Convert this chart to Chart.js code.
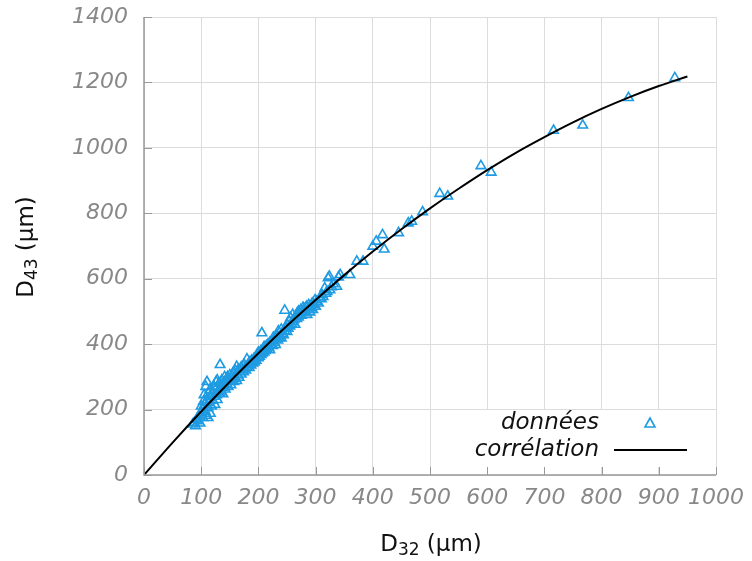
<!DOCTYPE html>
<html>
<head>
<meta charset="utf-8">
<script src="https://cdn.jsdelivr.net/npm/chart.js@4/dist/chart.umd.min.js"></script>
<style>
html,body{margin:0;padding:0;background:#fff;}
#wrap{width:752px;height:561px;}
</style>
</head>
<body>
<div id="wrap"><canvas id="c" width="752" height="561"></canvas></div>
<script>
// Measured data (données)
const d32 = [85,88,90,92,95,97,98,100,100,102,103,104,105,106,107,108,108,110,110,112,112,113,114,115,116,117,118,120,120,122,123,124,125,126,127,128,128,130,131,132,133,134,135,136,137,138,139,140,141,142,144,145,146,147,148,150,150,152,153,155,156,157,158,160,160,162,162,164,165,166,168,170,170,172,174,175,176,178,180,180,182,184,185,187,188,190,192,193,195,196,198,200,200,202,204,205,206,207,208,210,210,212,214,215,217,218,220,220,222,224,225,226,228,230,230,232,234,235,236,238,240,240,242,244,246,246,248,250,250,252,254,255,256,258,260,260,262,264,265,267,268,270,270,272,274,275,277,278,280,280,282,284,285,287,288,290,290,292,294,295,297,299,300,302,305,307,310,311,313,316,318,320,322,324,325,328,331,337,340,343,360,372,383,400,406,417,420,445,462,468,487,517,531,589,607,716,767,847,928];
const d43 = [155,160,150,170,165,180,158,190,210,200,175,225,245,215,195,270,182,285,230,205,175,250,222,260,188,240,210,255,228,270,240,215,262,285,245,290,230,258,280,250,337,270,255,290,268,248,282,275,300,262,288,278,300,270,292,285,305,275,298,290,312,285,300,295,318,331,288,305,322,298,315,308,330,322,315,338,325,320,354,330,338,328,345,336,350,342,355,345,360,350,368,358,375,362,378,368,434,372,385,375,392,380,395,385,400,390,405,382,398,410,395,420,405,415,398,428,412,440,420,425,418,445,432,428,440,503,450,438,460,448,470,455,480,462,468,490,475,460,485,478,495,482,500,490,505,488,498,512,495,508,500,515,490,505,520,498,515,510,525,505,520,535,515,530,525,540,538,551,545,571,555,560,602,607,566,575,584,576,605,612,612,653,653,699,714,734,690,740,770,775,804,860,852,945,925,1053,1069,1153,1214];
// Correlation curve (corrélation)
const corrX = [0,50,100,150,200,250,300,350,400,450,500,550,600,650,700,750,800,850,900,950];
const corrY = [0,99,194,285,372,456,535,611,683,751,815,875,932,985,1033,1078,1119,1156,1189,1218];
// Axis ticks
const xTicks = [0,100,200,300,400,500,600,700,800,900,1000];
const yTicks = [0,200,400,600,800,1000,1200,1400];
const legendLabels = ['données','corrélation'];

const FONT = '"DejaVu Sans", sans-serif';
const BLUE = '#1e9be2';

const pts = d32.map((x,i)=>({x:x,y:d43[i]}));
const curve = corrX.map((x,i)=>({x:x,y:corrY[i]}));

function drawSubText(ctx, parts, cx, cy){
  let w = 0;
  parts.forEach(p=>{ctx.font = p[1]+'px '+FONT; p.w = ctx.measureText(p[0]).width; w += p.w;});
  let x = cx - w/2;
  ctx.textAlign='left'; ctx.textBaseline='middle';
  parts.forEach(p=>{ctx.font = p[1]+'px '+FONT; ctx.fillText(p[0], x, cy + p[2]); x += p.w;});
}

const deco = {
  id:'deco',
  afterDraw(chart){
    const ctx = chart.ctx, xs = chart.scales.x, ys = chart.scales.y, a = chart.chartArea;
    ctx.save();
    // legend box
    ctx.fillStyle='#fff';
    ctx.fillRect(434,410,269,57);
    ctx.fillStyle='#111';
    ctx.font='italic 23px '+FONT;
    ctx.textAlign='right'; ctx.textBaseline='middle';
    ctx.fillText(legendLabels[0], 599, 423);
    ctx.fillText(legendLabels[1], 599, 450);
    ctx.strokeStyle=BLUE; ctx.lineWidth=1.6;
    ctx.beginPath();
    ctx.moveTo(650,418); ctx.lineTo(655,427); ctx.lineTo(645,427); ctx.closePath(); ctx.stroke();
    ctx.strokeStyle='#000'; ctx.lineWidth=2;
    ctx.beginPath(); ctx.moveTo(614,450); ctx.lineTo(687,450); ctx.stroke();
    // inward ticks
    ctx.strokeStyle='#999'; ctx.lineWidth=1;
    yTicks.forEach(v=>{const y=Math.round(ys.getPixelForValue(v))+0.5; ctx.beginPath(); ctx.moveTo(a.left,y); ctx.lineTo(a.left+8,y); ctx.stroke();});
    xTicks.forEach(v=>{const x=Math.round(xs.getPixelForValue(v))+0.5; ctx.beginPath(); ctx.moveTo(x,a.bottom); ctx.lineTo(x,a.bottom-8); ctx.stroke();});
    // axis lines
    ctx.strokeStyle='#999'; ctx.lineWidth=1.5;
    ctx.beginPath(); ctx.moveTo(a.left,a.top); ctx.lineTo(a.left,a.bottom); ctx.lineTo(a.right,a.bottom); ctx.stroke();
    // axis titles
    ctx.fillStyle='#111';
    drawSubText(ctx, [['D',23,0],['32',17,6],[' (µm)',23,0]], 431, 545);
    ctx.translate(27,247); ctx.rotate(-Math.PI/2);
    drawSubText(ctx, [['D',23,0],['43',17,6],[' (µm)',23,0]], 0, 0);
    ctx.restore();
  }
};

new Chart(document.getElementById('c'), {
  type:'scatter',
  data:{datasets:[
    {type:'line', label:legendLabels[1], data:curve, borderColor:'#000', borderWidth:2, pointRadius:0, fill:false, cubicInterpolationMode:'monotone'},
    {label:legendLabels[0], data:pts, pointStyle:'triangle', pointRadius:5.5, borderColor:BLUE, backgroundColor:'rgba(0,0,0,0)', borderWidth:1.6}
  ]},
  options:{
    responsive:false, animation:false,
    layout:{padding:{top:17,right:36,left:0,bottom:0}},
    plugins:{legend:{display:false}, tooltip:{enabled:false}},
    scales:{
      x:{type:'linear', min:0, max:1000,
        afterBuildTicks(s){ s.ticks = xTicks.map(v=>({value:v})); },
        afterFit(s){ s.height = 86; s.paddingLeft = 0; s.paddingRight = 0; },
        grid:{color:'#dcdcdc', drawTicks:false},
        border:{display:false},
        ticks:{padding:10, color:'#888', font:{family:FONT, size:22, style:'italic'}, maxRotation:0, autoSkip:false, callback:v=>String(v)}
      },
      y:{type:'linear', min:0, max:1400,
        afterBuildTicks(s){ s.ticks = yTicks.map(v=>({value:v})); },
        afterFit(s){ s.width = 144; s.paddingTop = 0; s.paddingBottom = 0; },
        grid:{color:'#dcdcdc', drawTicks:false},
        border:{display:false},
        ticks:{padding:16, color:'#888', font:{family:FONT, size:22, style:'italic'}, autoSkip:false, callback:v=>String(v)}
      }
    }
  },
  plugins:[deco]
});
</script>
</body>
</html>
